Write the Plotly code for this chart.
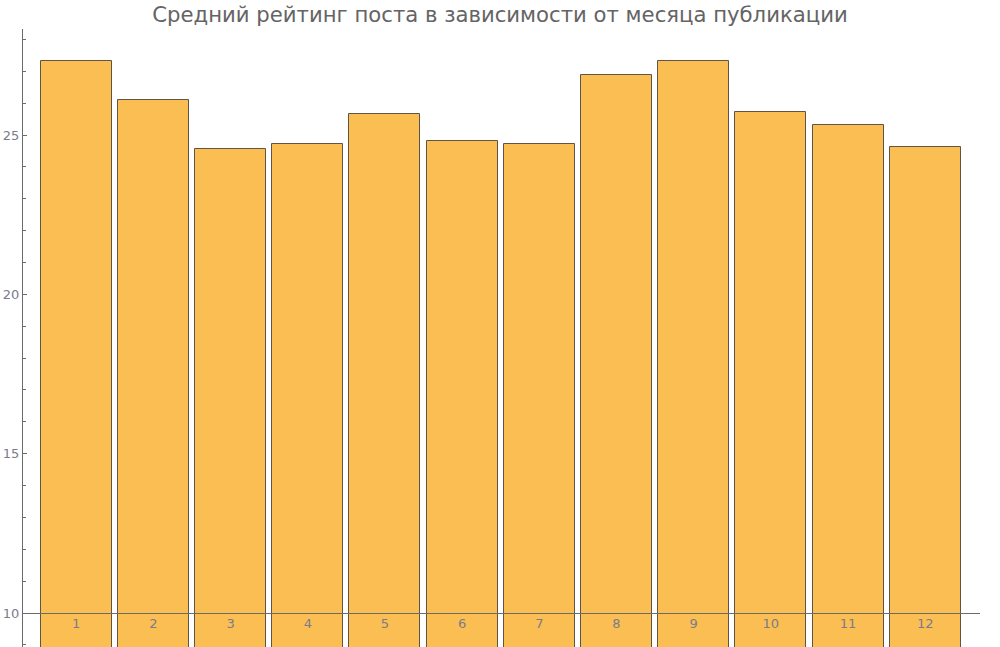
import plotly.graph_objects as go

months = [1, 2, 3, 4, 5, 6, 7, 8, 9, 10, 11, 12]
month_labels = ["1", "2", "3", "4", "5", "6", "7", "8", "9", "10", "11", "12"]
avg_rating = [27.32, 26.10, 24.56, 24.72, 25.66, 24.81, 24.72, 26.88, 27.32, 25.72, 25.31, 24.62]
y_ticks = [10, 15, 20, 25]

title = "Средний рейтинг поста в зависимости от месяца публикации"

y_min, y_max = 8.933, 28.33
axis_cross = 10

fig = go.Figure()
fig.add_trace(go.Bar(
    x=months, y=avg_rating, base=0, width=0.92,
    marker=dict(color="#FBBE52", line=dict(color="#5f5446", width=1)),
    hoverinfo="x+y",
))

fig.update_layout(
    width=1000, height=647,
    margin=dict(l=23, r=20, t=29, b=0),
    paper_bgcolor="white", plot_bgcolor="white",
    showlegend=False,
    font=dict(family="DejaVu Sans", color="#7b7b8c", size=13),
    title=dict(text=title, x=0.5, xanchor="center", y=0.977, yanchor="middle",
               font=dict(family="DejaVu Sans", size=21.2, color="#646464")),
    bargap=0,
)
fig.update_xaxes(
    range=[0.31, 12.71], tickvals=months, ticktext=month_labels,
    anchor="free", position=(axis_cross - y_min) / (y_max - y_min),
    showline=True, linecolor="#6b6b6b", linewidth=1,
    ticks="", showgrid=False, zeroline=False, ticklabelstandoff=-2,
    tickfont=dict(size=13, color="#7b7b8c"),
)
fig.update_yaxes(
    range=[y_min, y_max], tickvals=y_ticks,
    showline=True, linecolor="#6b6b6b", linewidth=1,
    ticks="inside", ticklen=4, tickcolor="#6b6b6b",
    minor=dict(dtick=1, tick0=0, ticks="inside", ticklen=2.5, tickcolor="#6b6b6b", showgrid=False),
    showgrid=False, zeroline=False,
    tickfont=dict(size=13, color="#7b7b8c"),
)

fig.write_html("out.html")
